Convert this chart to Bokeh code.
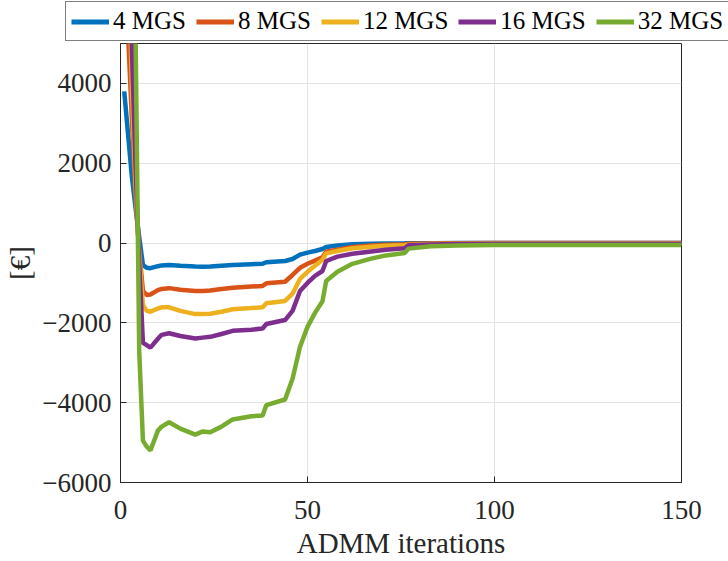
from bokeh.plotting import figure
from bokeh.models import Legend, LegendItem, FixedTicker, Range1d
from bokeh.embed import file_html
from bokeh.resources import INLINE

# ADMM iteration numbers at which values were read
iterations = [1, 2, 3, 4, 5, 6, 7, 8, 10, 11, 13, 16, 20, 22, 24, 27, 30, 35, 38, 39,
              44, 46, 48, 50, 52, 54, 55, 58, 62, 67, 71, 76, 77, 83, 90, 100, 120, 150]

mgs4 = [3800, 2750, 1700, 900, 150, -550, -620, -630, -580, -560, -550, -570, -590, -595, -590, -570, -550, -530, -520, -480,
        -450, -400, -290, -240, -200, -150, -100, -60, -30, -15, -10, -5, -3, -2, 0, 0, 0, 0]
mgs8 = [15000, 5300, 3200, 1200, -200, -1200, -1300, -1290, -1180, -1150, -1130, -1170, -1200, -1200, -1190, -1150, -1120, -1090, -1075, -1010,
        -970, -800, -620, -520, -440, -360, -220, -170, -100, -60, -40, -30, -20, -10, -5, 0, 0, 0]
mgs12 = [20000, 8000, 4000, 1500, -300, -1550, -1700, -1720, -1640, -1610, -1610, -1700, -1780, -1780, -1770, -1720, -1660, -1630, -1610, -1510,
         -1450, -1270, -900, -720, -570, -420, -260, -200, -130, -90, -70, -55, -40, -25, -15, -8, -5, -5]
mgs16 = [25000, 10000, 5000, 2000, -500, -2500, -2560, -2620, -2400, -2300, -2260, -2330, -2390, -2370, -2350, -2280, -2200, -2170, -2140, -2030,
         -1930, -1700, -1200, -1000, -820, -700, -450, -340, -270, -210, -170, -130, -55, -35, -25, -20, -15, -15]
mgs32 = [60000, 30000, 15000, 5500, -2700, -4950, -5100, -5200, -4700, -4600, -4490, -4650, -4800, -4720, -4740, -4600, -4420, -4340, -4320, -4060,
         -3920, -3400, -2600, -2100, -1750, -1460, -950, -720, -520, -390, -310, -250, -140, -80, -60, -50, -50, -50]

series = [mgs4, mgs8, mgs12, mgs16, mgs32]
labels = ["4 MGS", "8 MGS", "12 MGS", "16 MGS", "32 MGS"]
colors = ["#0072BD", "#D95319", "#EDB120", "#7E2F8E", "#77AC30"]

x_ticks = [0, 50, 100, 150]
y_ticks = [-6000, -4000, -2000, 0, 2000, 4000]

FONT = "Liberation Serif"
AX = "#262626"

# ---- legend strip (its own root, so its frame spans the full width) ----
top = figure(width=728, height=42, output_backend="svg", toolbar_location=None,
             x_axis_location=None, y_axis_location=None,
             x_range=Range1d(1000, 1001), y_range=Range1d(0, 1), min_border=0)
top.grid.visible = False
top.outline_line_color = None
top.background_fill_color = "white"
top.border_fill_color = "white"
legend_renderers = [top.line(iterations, s, line_color=c, line_width=5) for s, c in zip(series, colors)]
legend = Legend(items=[LegendItem(label=l, renderers=[r]) for l, r in zip(labels, legend_renderers)],
                location=(65, 1), orientation="horizontal",
                label_text_font=FONT, label_text_font_size="25px", label_text_color="black",
                glyph_width=38, glyph_height=25, label_height=25, label_standoff=4,
                spacing=10, padding=5, margin=0,
                border_line_color="black", border_line_width=1,
                background_fill_color="white", background_fill_alpha=1)
top.add_layout(legend)

# ---- main plot ----
p = figure(width=728, height=519, output_backend="svg", toolbar_location=None,
           x_range=Range1d(0, 150), y_range=Range1d(-6000, 5000),
           min_border_left=120, min_border_right=47, min_border_top=1, min_border_bottom=77)
p.background_fill_color = "white"
p.border_fill_color = "white"
p.outline_line_color = AX
p.outline_line_width = 1

for ys, c in zip(series, colors):
    p.line(iterations, ys, line_color=c, line_width=4.5)

for ax, ticks in ((p.xaxis[0], x_ticks), (p.yaxis[0], y_ticks)):
    ax.ticker = FixedTicker(ticks=ticks)
    ax.major_tick_in = 6
    ax.major_tick_out = 0
    ax.minor_tick_in = 0
    ax.minor_tick_out = 0
    ax.axis_line_color = AX
    ax.major_tick_line_color = AX
    ax.major_label_text_font = FONT
    ax.major_label_text_font_size = "27px"
    ax.major_label_text_color = AX
    ax.axis_label_text_font = FONT
    ax.axis_label_text_font_size = "29px"
    ax.axis_label_text_font_style = "normal"
    ax.axis_label_text_color = AX

p.xaxis[0].axis_label = "ADMM iterations"
p.xaxis[0].major_label_standoff = 18
p.xaxis[0].axis_label_standoff = 5
p.yaxis[0].axis_label = "[€]"
p.yaxis[0].major_label_standoff = 9
p.yaxis[0].axis_label_standoff = 3

p.xgrid.ticker = FixedTicker(ticks=x_ticks)
p.ygrid.ticker = FixedTicker(ticks=y_ticks)
p.grid.grid_line_color = "#e3e3e3"
p.grid.grid_line_width = 1

open("out.html", "w").write(file_html([top, p], INLINE))
